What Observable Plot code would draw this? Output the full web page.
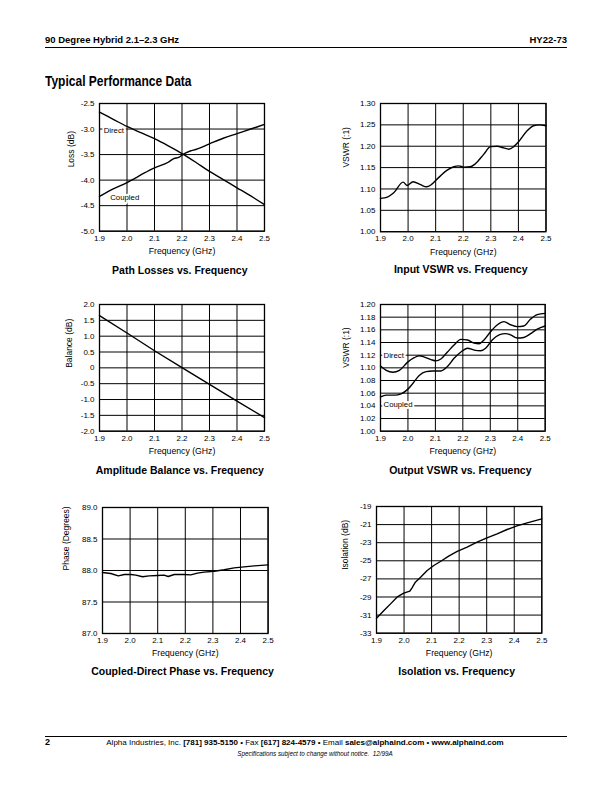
<!DOCTYPE html>
<html>
<head>
<meta charset="utf-8">
<script src="https://cdn.jsdelivr.net/npm/d3@7"></script>
<script src="https://cdn.jsdelivr.net/npm/@observablehq/plot@0.6"></script>
<style>
  html, body { margin: 0; padding: 0; background: #fff; }
  #page { position: relative; width: 612px; height: 792px; background: #fff; font-family: "Liberation Sans", Arial, Helvetica, sans-serif; color: #000; overflow: hidden; }
  .abs { position: absolute; white-space: nowrap; }
  .rule { position: absolute; background: #000; height: 1px; }
  .title { position: absolute; white-space: nowrap; font-weight: bold; font-size: 10.5px; line-height: 12px; transform: translateX(-50%); }
</style>
</head>
<body>
<div id="page">
  <div class="abs" style="left:45px; top:34px; font-size:9.5px; line-height:12px; font-weight:bold;">90 Degree Hybrid 2.1–2.3 GHz</div>
  <div class="abs" style="right:45px; top:34px; font-size:9.5px; line-height:12px; font-weight:bold;">HY22-73</div>
  <div class="rule" style="left:45px; top:47px; width:522px; height:1.3px;"></div>
  <div class="abs" style="left:45px; top:72px; font-size:15px; line-height:17px; font-weight:bold; transform:scaleX(0.8); transform-origin:left center;">Typical Performance Data</div>

  <div class="rule" style="left:45px; top:736px; width:522px; height:1.3px;"></div>
  <div class="abs" style="left:45px; top:737px; font-size:9px; line-height:11px; font-weight:bold;">2</div>
  <div class="abs" style="left:305px; top:737.5px; font-size:8px; line-height:10px; transform:translateX(-50%);">Alpha Industries, Inc. <b>[781] 935-5150</b> • Fax <b>[617] 824-4579</b> • Email <b>sales@alphaind.com</b> • <b>www.alphaind.com</b></div>
  <div class="abs" style="left:315px; top:750px; font-size:6.3px; line-height:8px; font-style:italic; transform:translateX(-50%);">Specifications subject to change without notice.&nbsp; 12/99A</div>
</div>
<script>
// ---------- shared axis data ----------
const freqTicks = [1.9, 2.0, 2.1, 2.2, 2.3, 2.4, 2.5];
const freqTickLabels = ["1.9", "2.0", "2.1", "2.2", "2.3", "2.4", "2.5"];

// ---------- Path Losses ----------
const lossTicks = [-5.0, -4.5, -4.0, -3.5, -3.0, -2.5];
const lossTickLabels = ["-5.0", "-4.5", "-4.0", "-3.5", "-3.0", "-2.5"];
const directLossFreq = [1.90, 1.95, 2.00, 2.05, 2.10, 2.15, 2.20, 2.25, 2.30, 2.35, 2.40, 2.45, 2.50];
const directLoss = [-2.67, -2.81, -2.95, -3.07, -3.19, -3.33, -3.48, -3.65, -3.83, -3.99, -4.15, -4.31, -4.48];
const coupledLossFreq = [1.90, 1.95, 2.00, 2.03, 2.06, 2.10, 2.15, 2.17, 2.19, 2.20, 2.23, 2.25, 2.30, 2.35, 2.40, 2.45, 2.50];
const coupledLoss = [-4.32, -4.17, -4.05, -3.96, -3.87, -3.76, -3.65, -3.58, -3.55, -3.51, -3.43, -3.40, -3.29, -3.18, -3.09, -3.00, -2.91];
const lossLabels = ["Direct", "Coupled"];
const lossLabelFreq = [1.915, 1.939];
const lossLabelValue = [-3.03, -4.35];

// ---------- Input VSWR ----------
const inVswrTicks = [1.00, 1.05, 1.10, 1.15, 1.20, 1.25, 1.30];
const inVswrTickLabels = ["1.00", "1.05", "1.10", "1.15", "1.20", "1.25", "1.30"];
const inVswrFreq = [1.900, 1.925, 1.948, 1.982, 1.997, 2.018, 2.045, 2.067, 2.084, 2.105, 2.142, 2.166, 2.184, 2.202, 2.226, 2.244, 2.274, 2.299, 2.323, 2.347, 2.365, 2.383, 2.400, 2.430, 2.455, 2.475, 2.500];
const inVswr = [1.078, 1.081, 1.091, 1.116, 1.108, 1.117, 1.110, 1.105, 1.110, 1.123, 1.144, 1.152, 1.154, 1.151, 1.152, 1.159, 1.181, 1.199, 1.200, 1.196, 1.193, 1.199, 1.210, 1.235, 1.248, 1.250, 1.248];

// ---------- Amplitude Balance ----------
const balTicks = [-2.0, -1.5, -1.0, -0.5, 0, 0.5, 1.0, 1.5, 2.0];
const balTickLabels = ["-2.0", "-1.5", "-1.0", "-0.5", "0", "0.5", "1.0", "1.5", "2.0"];
const balFreq = [1.9, 2.0, 2.1, 2.2, 2.3, 2.4, 2.5];
const balance = [1.65, 1.10, 0.54, 0.01, -0.52, -1.05, -1.57];

// ---------- Output VSWR ----------
const outVswrTicks = [1.00, 1.02, 1.04, 1.06, 1.08, 1.10, 1.12, 1.14, 1.16, 1.18, 1.20];
const outVswrTickLabels = ["1.00", "1.02", "1.04", "1.06", "1.08", "1.10", "1.12", "1.14", "1.16", "1.18", "1.20"];
const outDirectFreq = [1.900, 1.921, 1.945, 1.969, 1.999, 2.023, 2.041, 2.060, 2.084, 2.102, 2.120, 2.144, 2.168, 2.193, 2.217, 2.241, 2.259, 2.277, 2.301, 2.326, 2.350, 2.374, 2.398, 2.422, 2.447, 2.471, 2.500];
const outDirect = [1.103, 1.096, 1.093, 1.096, 1.109, 1.116, 1.119, 1.117, 1.113, 1.111, 1.114, 1.125, 1.136, 1.145, 1.144, 1.139, 1.138, 1.144, 1.157, 1.168, 1.173, 1.168, 1.165, 1.166, 1.177, 1.184, 1.186];
const outCoupledFreq = [1.900, 1.921, 1.951, 1.975, 1.999, 2.017, 2.041, 2.066, 2.090, 2.120, 2.144, 2.168, 2.193, 2.217, 2.241, 2.265, 2.283, 2.307, 2.332, 2.356, 2.374, 2.398, 2.422, 2.447, 2.471, 2.500];
const outCoupled = [1.054, 1.057, 1.057, 1.059, 1.066, 1.075, 1.088, 1.094, 1.095, 1.095, 1.102, 1.115, 1.125, 1.131, 1.128, 1.127, 1.131, 1.144, 1.152, 1.154, 1.152, 1.147, 1.148, 1.154, 1.161, 1.166];
const outLabels = ["Direct", "Coupled"];
const outLabelFreq = [1.911, 1.911];
const outLabelValue = [1.1195, 1.0415];

// ---------- Phase ----------
const phaseTicks = [87.0, 87.5, 88.0, 88.5, 89.0];
const phaseTickLabels = ["87.0", "87.5", "88.0", "88.5", "89.0"];
const phaseFreq = [1.900, 1.930, 1.957, 1.979, 2.003, 2.021, 2.045, 2.069, 2.099, 2.123, 2.138, 2.160, 2.196, 2.220, 2.244, 2.268, 2.305, 2.341, 2.377, 2.413, 2.450, 2.500];
const phase = [87.968, 87.952, 87.915, 87.937, 87.937, 87.926, 87.900, 87.915, 87.920, 87.926, 87.905, 87.937, 87.937, 87.931, 87.958, 87.974, 87.989, 88.011, 88.042, 88.058, 88.074, 88.090];

// ---------- Isolation ----------
const isoTicks = [-33, -31, -29, -27, -25, -23, -21, -19];
const isoTickLabels = ["-33", "-31", "-29", "-27", "-25", "-23", "-21", "-19"];
const isoFreq = [1.900, 1.927, 1.951, 1.977, 1.999, 2.021, 2.029, 2.041, 2.060, 2.084, 2.108, 2.132, 2.162, 2.193, 2.229, 2.265, 2.301, 2.338, 2.374, 2.410, 2.447, 2.500];
const isolation = [-31.34, -30.50, -29.76, -28.95, -28.58, -28.36, -27.99, -27.36, -26.81, -26.07, -25.52, -25.08, -24.49, -23.97, -23.50, -22.94, -22.46, -22.02, -21.54, -21.14, -20.81, -20.36];

// ---------- chart builder ----------
const zip = (xs, ys) => xs.map((x, i) => ({f: x, v: ys[i]}));
const ML = 48, MR = 8, MT = 8, MB = 32;

function chart(cfg) {
  const w = (cfg.R - cfg.L) + ML + MR;
  const h = (cfg.B - cfg.T) + MT + MB;
  const marks = [
    Plot.ruleX(freqTicks, {stroke: "#000", strokeWidth: 1}),
    Plot.ruleY(cfg.yTicks, {stroke: "#000", strokeWidth: 1}),
    Plot.frame({stroke: "#000", strokeWidth: 1.3})
  ];
  if (cfg.labels) {
    marks.push(Plot.text(cfg.labels.text.map((t, i) => ({t, f: cfg.labels.f[i], v: cfg.labels.v[i]})), {
      x: "f", y: "v", text: "t", textAnchor: "start", fill: "#000",
      stroke: "#fff", strokeWidth: 4, fontSize: 7.8
    }));
  }
  for (const s of cfg.series) {
    marks.push(Plot.line(s, {x: "f", y: "v", stroke: "#000", strokeWidth: 1.4, curve: cfg.curve || "monotone-x"}));
  }
  marks.push(Plot.text(["Frequency (GHz)"], {frameAnchor: "bottom", dy: 23, fontSize: 8.7, fill: "#000"}));
  marks.push(Plot.text([cfg.yLabel], {frameAnchor: "left", dx: cfg.yLabelDx, rotate: -90, fontSize: 8.5, fill: "#000"}));
  const p = Plot.plot({
    width: w, height: h,
    marginLeft: ML, marginRight: MR, marginTop: MT, marginBottom: MB,
    style: {fontFamily: "'Liberation Sans', Arial, Helvetica, sans-serif", fontSize: "8px", color: "#000", background: "transparent", overflow: "visible"},
    x: {domain: [1.9, 2.5], ticks: freqTicks, tickFormat: d => freqTickLabels[freqTicks.indexOf(d)], tickSize: 0, tickPadding: 4, label: null},
    y: {domain: cfg.yDomain, ticks: cfg.yTicks, tickFormat: d => cfg.yTickLabels[cfg.yTicks.indexOf(d)], tickSize: 0, tickPadding: 5, label: null},
    marks
  });
  const holder = document.createElement("div");
  holder.style.cssText = `position:absolute; left:${cfg.L - ML}px; top:${cfg.T - MT}px;`;
  holder.appendChild(p);
  document.getElementById("page").appendChild(holder);
  const t = document.createElement("div");
  t.className = "title";
  t.textContent = cfg.title;
  t.style.left = ((cfg.L + cfg.R) / 2 - 2) + "px";
  t.style.top = (cfg.B + 32.5) + "px";
  document.getElementById("page").appendChild(t);
}

chart({
  L: 99.3, R: 264.3, T: 103.3, B: 231,
  yDomain: [-5.0, -2.5], yTicks: lossTicks, yTickLabels: lossTickLabels,
  yLabel: "Loss (dB)", yLabelDx: -28,
  series: [zip(directLossFreq, directLoss), zip(coupledLossFreq, coupledLoss)],
  labels: {text: lossLabels, f: lossLabelFreq, v: lossLabelValue},
  title: "Path Losses vs. Frequency"
});
chart({
  L: 380, R: 545.5, T: 102.5, B: 230.7,
  yDomain: [1.00, 1.30], yTicks: inVswrTicks, yTickLabels: inVswrTickLabels,
  yLabel: "VSWR (:1)", yLabelDx: -34,
  series: [zip(inVswrFreq, inVswr)],
  title: "Input VSWR vs. Frequency"
});
chart({
  L: 99.3, R: 264.3, T: 304.3, B: 431,
  yDomain: [-2.0, 2.0], yTicks: balTicks, yTickLabels: balTickLabels,
  yLabel: "Balance (dB)", yLabelDx: -30,
  series: [zip(balFreq, balance)],
  curve: "linear",
  title: "Amplitude Balance vs. Frequency"
});
chart({
  L: 380, R: 544.7, T: 304.3, B: 431,
  yDomain: [1.00, 1.20], yTicks: outVswrTicks, yTickLabels: outVswrTickLabels,
  yLabel: "VSWR (:1)", yLabelDx: -34,
  series: [zip(outDirectFreq, outDirect), zip(outCoupledFreq, outCoupled)],
  labels: {text: outLabels, f: outLabelFreq, v: outLabelValue},
  title: "Output VSWR vs. Frequency"
});
chart({
  L: 101.7, R: 267.3, T: 506.7, B: 632.7,
  yDomain: [87.0, 89.0], yTicks: phaseTicks, yTickLabels: phaseTickLabels,
  yLabel: "Phase (Degrees)", yLabelDx: -36,
  series: [zip(phaseFreq, phase)],
  curve: "linear",
  title: "Coupled-Direct Phase vs. Frequency"
});
chart({
  L: 376, R: 541.3, T: 506, B: 632.7,
  yDomain: [-33, -19], yTicks: isoTicks, yTickLabels: isoTickLabels,
  yLabel: "Isolation (dB)", yLabelDx: -31,
  series: [zip(isoFreq, isolation)],
  curve: "linear",
  title: "Isolation vs. Frequency"
});
</script>
</body>
</html>
